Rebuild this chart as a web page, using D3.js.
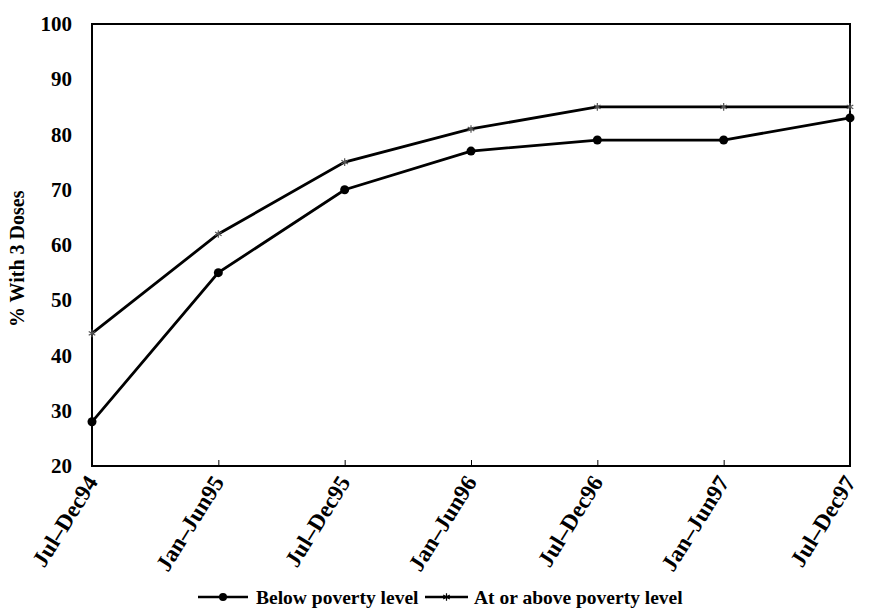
<!DOCTYPE html>
<html>
<head>
<meta charset="utf-8">
<script src="https://cdn.jsdelivr.net/npm/d3@7"></script>
<style>
  body { margin: 0; background: #fff; }
  text { font-family: "Liberation Serif", "Times New Roman", serif; font-weight: bold; fill: #000; }
</style>
</head>
<body>
<div id="chart"></div>
<script>
// Chart size and plot margins
const width = 869;
const height = 609;
const margin = {left: 92, right: 19, top: 24, bottom: 143};

// Chart data
const periods = ['Jul\u2013Dec94', 'Jan\u2013Jun95', 'Jul\u2013Dec95', 'Jan\u2013Jun96', 'Jul\u2013Dec96', 'Jan\u2013Jun97', 'Jul\u2013Dec97'];
const belowPoverty = [28, 55, 70, 77, 79, 79, 83];
const abovePoverty = [44, 62, 75, 81, 85, 85, 85];
const yTicks = [20, 30, 40, 50, 60, 70, 80, 90, 100];
const seriesNames = ['Below poverty level', 'At or above poverty level'];

const svg = d3.select("#chart")
  .append("svg")
  .attr("width", width)
  .attr("height", height);

// x is a point scale so first and last periods sit on the frame edges
let xScale = d3.scalePoint()
  .domain(periods)
  .range([margin.left, width - margin.right]);

let yScale = d3.scaleLinear()
  .domain([20, 100])
  .range([height - margin.bottom, margin.top]);

// frame
svg.append("rect")
  .attr("x", margin.left)
  .attr("y", margin.top)
  .attr("width", width - margin.left - margin.right)
  .attr("height", height - margin.top - margin.bottom)
  .attr("fill", "none")
  .attr("stroke", "#000")
  .attr("stroke-width", 2);

// y axis labels, no tick marks
const yAxis = svg.append("g")
  .attr("transform", `translate(${margin.left}, 0)`)
  .call(d3.axisLeft(yScale).tickValues(yTicks).tickSize(0).tickPadding(20));
yAxis.select(".domain").remove();
yAxis.selectAll("text").attr("font-size", "21px");

// x axis, short inward ticks
const xAxis = svg.append("g")
  .attr("transform", `translate(0,${height - margin.bottom})`)
  .call(d3.axisBottom(xScale).tickSizeInner(-6).tickSizeOuter(0).tickPadding(0));
xAxis.select(".domain").remove();
xAxis.selectAll("line").attr("stroke-width", 1);
xAxis.selectAll("text")
  .attr("font-size", "23px")
  .attr("text-anchor", "end")
  .attr("y", 0)
  .attr("dy", 0)
  .attr("transform", "translate(6,16) rotate(-58)");

// y axis title
svg.append("text")
  .attr("transform", `translate(24, ${yScale(57.5)}) rotate(-90)`)
  .attr("text-anchor", "middle")
  .attr("font-size", "20px")
  .text("% With 3 Doses");

const line = d3.line()
  .x((d, i) => xScale(periods[i]))
  .y(d => yScale(d));

// lines
svg.append("path")
  .datum(abovePoverty)
  .attr("d", line)
  .attr("fill", "none")
  .attr("stroke", "#000")
  .attr("stroke-width", 2.8);

svg.append("path")
  .datum(belowPoverty)
  .attr("d", line)
  .attr("fill", "none")
  .attr("stroke", "#000")
  .attr("stroke-width", 2.8);

// markers
svg.selectAll(".dot")
  .data(belowPoverty)
  .enter()
  .append("circle")
    .attr("class", "dot")
    .attr("cx", (d, i) => xScale(periods[i]))
    .attr("cy", d => yScale(d))
    .attr("r", 4.5)
    .attr("fill", "#000");

const star = d3.symbol().type(d3.symbolAsterisk).size(40);
svg.selectAll(".star")
  .data(abovePoverty)
  .enter()
  .append("path")
    .attr("class", "star")
    .attr("d", star)
    .attr("transform", (d, i) => `translate(${xScale(periods[i])},${yScale(d)})`)
    .attr("fill", "none")
    .attr("stroke", "#555")
    .attr("stroke-width", 1.2);

// legend
const legendY = 597;
const legendItems = [
  {name: seriesNames[0], x1: 198, x2: 248, tx: 256, marker: "dot"},
  {name: seriesNames[1], x1: 425, x2: 468, tx: 474, marker: "star"}
];
const legend = svg.append("g");
legendItems.forEach(item => {
  legend.append("line")
    .attr("x1", item.x1).attr("x2", item.x2)
    .attr("y1", legendY).attr("y2", legendY)
    .attr("stroke", "#000")
    .attr("stroke-width", 2.5);
  if (item.marker === "dot") {
    legend.append("circle")
      .attr("cx", (item.x1 + item.x2) / 2)
      .attr("cy", legendY)
      .attr("r", 4)
      .attr("fill", "#000");
  } else {
    legend.append("path")
      .attr("d", star)
      .attr("transform", `translate(${(item.x1 + item.x2) / 2},${legendY})`)
      .attr("fill", "none")
      .attr("stroke", "#000")
      .attr("stroke-width", 1.2);
  }
  legend.append("text")
    .attr("x", item.tx)
    .attr("y", legendY)
    .attr("dy", "0.35em")
    .attr("font-size", "19.5px")
    .text(item.name);
});
</script>
</body>
</html>
